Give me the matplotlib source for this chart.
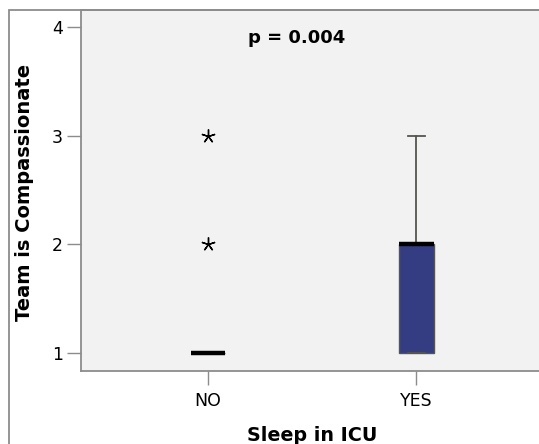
import matplotlib.pyplot as plt
from matplotlib.patches import Rectangle

# Box plot summary
groups = ["NO", "YES"]
q1 = [1, 1]
medians = [1, 2]
q3 = [1, 2]
whisker_low = [1, 1]
whisker_high = [1, 3]
outliers = [[2, 3], []]
p_text = "p = 0.004"

stats = []
for i, g in enumerate(groups):
    stats.append({"label": g, "q1": q1[i], "med": medians[i], "q3": q3[i],
                  "whislo": whisker_low[i], "whishi": whisker_high[i],
                  "fliers": outliers[i]})

fig = plt.figure(figsize=(5.39, 4.44), dpi=100)
fig.patch.set_facecolor("white")

# outer frame like the SPSS chart border
frame = Rectangle((9 / 539, -0.1), 1.2, 1.1 - 10 / 444 + 0.001, transform=fig.transFigure,
                  fill=False, edgecolor="#8c8c8c", linewidth=1.3, zorder=0)
fig.patches.append(frame)

ax = fig.add_axes([81 / 539, 1 - 371 / 444, 1 - 81 / 539, (371 - 10) / 444])
ax.set_facecolor("#f2f2f2")

ax.bxp(stats, positions=[1, 2], widths=0.168, patch_artist=True, showcaps=True,
       boxprops=dict(facecolor="#343d82", edgecolor="#555555", linewidth=1),
       medianprops=dict(color="black", linewidth=3.2, solid_capstyle="butt"),
       whiskerprops=dict(color="#555550", linewidth=1.3),
       capprops=dict(color="#555550", linewidth=1.3),
       capwidths=0.082,
       flierprops=dict(marker=(5, 2, 0), markersize=10, markeredgecolor="black",
                       markeredgewidth=1.0, linestyle="none"))

ax.set_xlim(0.39, 2.59)
ax.set_ylim(0.833, 4.157)
ax.set_yticks([1, 2, 3, 4])
ax.set_xticks([1, 2])
ax.set_xticklabels(groups)

for side in ["left", "bottom", "top"]:
    ax.spines[side].set_color("#8c8c8c")
    ax.spines[side].set_linewidth(1.3)
ax.spines["right"].set_visible(False)

ax.tick_params(axis="both", length=10, width=1, color="#8c8c8c", labelsize=12.5,
               labelcolor="black")
ax.tick_params(axis="x", pad=5)
ax.tick_params(axis="y", pad=3)

ax.set_ylabel("Team is Compassionate", fontsize=14, fontweight="bold")
ax.yaxis.set_label_coords(-(81 - 25) / (539 - 81), (371 - 192) / 361)
ax.set_xlabel("Sleep in ICU", fontsize=13.8, fontweight="bold")
ax.xaxis.set_label_coords((312 - 81) / (539 - 81), -(435 - 371) / 361)
ax.xaxis.label.set_va("center")
ax.yaxis.label.set_va("center")

ax.text((297 - 81) / (539 - 81), 1 - (38 - 10) / 361, p_text, transform=ax.transAxes,
        ha="center", va="center", fontsize=13, fontweight="bold")

fig.savefig("out.png", dpi=100)
